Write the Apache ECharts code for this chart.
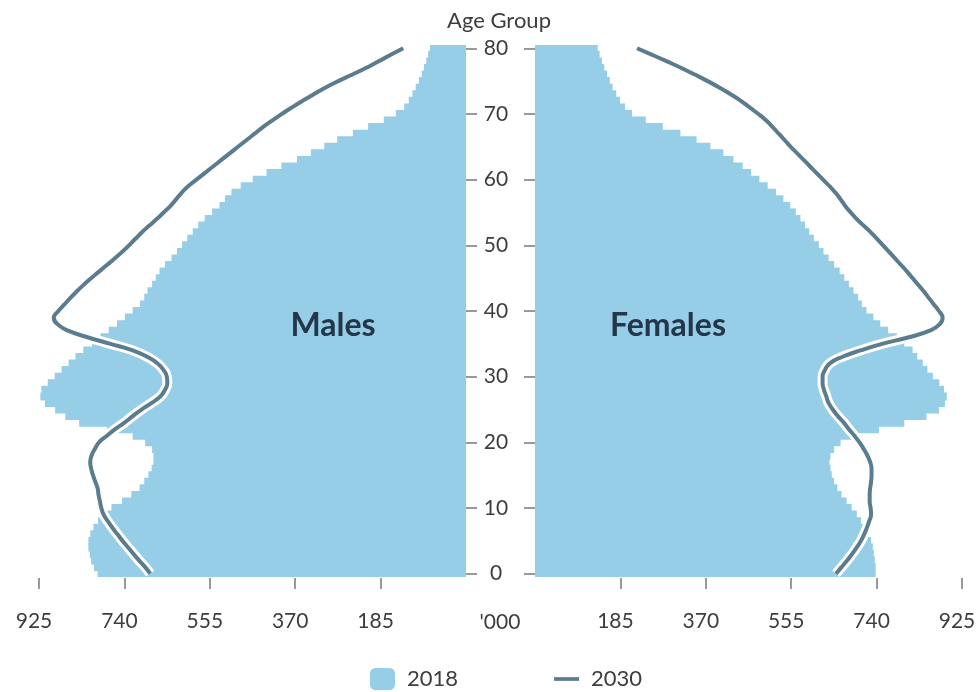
<!DOCTYPE html>
<html>
<head>
<meta charset="utf-8">
<title>Age Group</title>
<script src="https://cdn.jsdelivr.net/npm/echarts@6/dist/echarts.min.js"></script>
<style>
  html, body { margin: 0; padding: 0; background: #fff; }
  #chart { width: 980px; height: 692px; }
</style>
</head>
<body>
<div id="chart"></div>
<script>
// ages 0..80, values in thousands
const ages = []
for (let a = 0; a <= 80; a++) ages.push(String(a))

const males2018 = [
  798, 806, 812, 815, 818, 818, 814, 807, 797, 785,
  768, 745, 725, 707, 697, 688, 681, 677, 677, 680,
  695, 722, 778, 838, 868, 890, 912, 922, 920, 906,
  891, 876, 861, 846, 829, 810, 792, 774, 756, 739,
  722, 706, 697, 690, 680, 672, 664, 652, 638, 626,
  615, 604, 592, 580, 566, 550, 534, 522, 508, 488,
  462, 432, 400, 366, 336, 307, 279, 245, 212, 178,
  152, 134, 124, 116, 109, 102, 96, 91, 86, 82,
  78
]
const males2030 = [
  684, 695, 708, 720, 732, 744, 755, 766, 776, 785,
  790, 793, 796, 798, 803, 808, 812, 814, 811, 804,
  795, 778, 760, 740, 722, 703, 681, 662, 652, 647,
  648, 655, 668, 690, 722, 770, 820, 862, 885, 893,
  883, 870, 857, 843, 828, 812, 795, 778, 761, 745,
  730, 716, 702, 686, 670, 655, 640, 628, 616, 602,
  584, 566, 548, 530, 512, 494, 476, 458, 440, 420,
  399, 377, 354, 330, 305, 277, 246, 217, 190, 163,
  136
]
const females2018 = [
  738, 738, 736, 734, 732, 728, 722, 714, 706, 697,
  686, 675, 664, 655, 648, 643, 640, 638, 640, 648,
  662, 700, 745, 800, 848, 875, 888, 892, 886, 876,
  862, 850, 840, 828, 818, 800, 784, 765, 748, 733,
  718, 708, 700, 690, 680, 670, 660, 648, 636, 625,
  615, 604, 594, 585, 575, 565, 553, 538, 522, 504,
  486, 468, 450, 430, 408, 380, 350, 315, 277, 240,
  210, 195, 184, 176, 168, 162, 156, 150, 145, 140,
  136
]
const females2030 = [
  652, 664, 676, 687, 697, 706, 713, 719, 724, 728,
  727, 725, 725, 726, 728, 729, 729, 726, 720, 712,
  703, 692, 680, 669, 656, 645, 636, 631, 626, 623,
  623, 628, 638, 665, 705, 752, 810, 855, 877, 883,
  875, 864, 853, 842, 830, 818, 806, 793, 780, 767,
  754, 741, 727, 712, 697, 684, 672, 662, 651, 638,
  624, 610, 596, 582, 568, 554, 541, 528, 515, 501,
  484, 465, 446, 424, 400, 374, 346, 317, 286, 254,
  221
]
const xTicks = [185, 370, 555, 740, 925]

const barColor = '#96cde7'
const lineColor = '#5b7b8f'
const textColor = '#3d3d3d'
const font = 'Lato, "Open Sans", sans-serif'

const chart = echarts.init(document.getElementById('chart'))

function xAxis(grid, inverse) {
  return {
    type: 'value',
    gridIndex: grid,
    min: 0,
    max: 925,
    inverse: inverse,
    offset: 1,
    axisLine: { show: false },
    splitLine: { show: false },
    axisTick: { show: true, length: 11, customValues: xTicks, lineStyle: { color: '#999', width: 2 } },
    axisLabel: {
      customValues: xTicks,
      margin: 33,
      padding: [0, 10, 0, 0],
      fontSize: 21,
      color: textColor,
      fontFamily: font
    }
  }
}

function yAxis(grid, pos, showLabel) {
  return {
    type: 'category',
    gridIndex: grid,
    data: ages,
    position: pos,
    offset: 3,
    z: 5,
    axisLine: { show: false },
    axisTick: {
      show: true,
      alignWithLabel: true,
      length: 11,
      interval: (i) => i % 10 === 0,
      lineStyle: { color: '#999', width: 2 }
    },
    axisLabel: {
      show: showLabel,
      interval: (i) => i % 10 === 0,
      align: 'center',
      margin: 27,
      fontSize: 21,
      color: textColor,
      fontFamily: font
    }
  }
}

function barSeries(idx, data) {
  return {
    name: '2018',
    type: 'bar',
    xAxisIndex: idx,
    yAxisIndex: idx,
    data: data,
    barWidth: 8,
    itemStyle: { color: barColor },
    z: 2
  }
}

function haloSeries(idx, data) {
  return {
    name: 'halo',
    type: 'line',
    xAxisIndex: idx,
    yAxisIndex: idx,
    data: data,
    smooth: true,
    symbol: 'none',
    lineStyle: { color: '#fff', width: 10 },
    z: 3
  }
}

function lineSeries(idx, data) {
  return {
    name: '2030',
    type: 'line',
    xAxisIndex: idx,
    yAxisIndex: idx,
    data: data,
    smooth: true,
    symbol: 'none',
    lineStyle: { color: lineColor, width: 4 },
    itemStyle: { color: lineColor },
    z: 4
  }
}

chart.setOption({
  animation: false,
  textStyle: { fontFamily: font },
  grid: [
    { left: 39, right: 514, top: 45, bottom: 115 },
    { left: 535, right: 18, top: 45, bottom: 115 }
  ],
  xAxis: [xAxis(0, true), xAxis(1, false)],
  yAxis: [yAxis(0, 'right', true), yAxis(1, 'left', false)],
  legend: {
    data: [{ name: '2018' }, { name: '2030', icon: 'path://M0,0 H27 V4 H0 Z' }],
    top: 663,
    left: 365,
    itemWidth: 25,
    itemHeight: 22,
    itemGap: 96,
    symbolKeepAspect: true,
    textStyle: { fontSize: 22, color: textColor, fontFamily: font, padding: [0, 0, 0, 7] }
  },
  graphic: [
    { type: 'text', x: 499, y: 21, style: { text: 'Age Group', fontSize: 22, fill: textColor, fontFamily: font, align: 'center', verticalAlign: 'middle' } },
    { type: 'text', x: 500, y: 622, style: { text: "'000", fontSize: 21, fill: textColor, fontFamily: font, align: 'center', verticalAlign: 'middle' } },
    { type: 'text', x: 333, y: 326, z: 10, style: { text: 'Males', fontSize: 32, fontWeight: 'bold', fill: '#23364a', fontFamily: font, align: 'center', verticalAlign: 'middle' } },
    { type: 'text', x: 668, y: 326, z: 10, style: { text: 'Females', fontSize: 32, fontWeight: 'bold', fill: '#23364a', fontFamily: font, align: 'center', verticalAlign: 'middle' } }
  ],
  series: [
    barSeries(0, males2018),
    haloSeries(0, males2030),
    lineSeries(0, males2030),
    barSeries(1, females2018),
    haloSeries(1, females2030),
    lineSeries(1, females2030)
  ]
})
</script>
</body>
</html>
